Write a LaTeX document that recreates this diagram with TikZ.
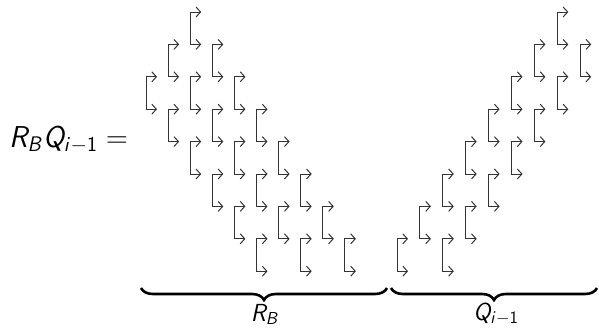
\documentclass[tikz,border=0pt]{standalone}
\usepackage{fix-cm}
\usetikzlibrary{arrows.meta,decorations.pathreplacing}
\DeclareMathAlphabet{\mathsfit}{OT1}{cmss}{m}{sl}
\begin{document}
\begin{tikzpicture}[x=1pt,y=-1pt,
  brk/.style={draw=black!80, line width=1pt, {Straight Barb[length=4.5pt,width=10pt,line width=1pt]}-{Straight Barb[length=4.5pt,width=10pt,line width=1pt]}},
  ubrace/.style={decorate, decoration={brace, mirror, amplitude=12pt}, line width=2.6pt},
  biglbl/.style={font=\fontsize{26}{30}\selectfont, inner sep=0pt, scale=1.16},
  smalllbl/.style={font=\fontsize{19}{22}\selectfont, inner sep=0pt, scale=1.3}]
\useasboundingbox (0,0) rectangle (599,327);
% main label
\node[biglbl, anchor=base west] (eq) at (9,147) {$\mathsfit{R}_{\mathsfit{B}}\mathsfit{Q}_{\mathsfit{i}-\mathsf{1}}=$};
% left group (R_B)
\foreach \c/\r in {2/0,1/1,3/1,0/2,2/2,4/2,1/3,3/3,5/3,2/4,4/4,6/4,3/5,5/5,7/5,4/6,6/6,8/6,5/7,7/7,9/7}{
  \pgfmathsetmacro{\xx}{146+22.1*\c}
  \pgfmathsetmacro{\yy}{12+32.4*\r}
  \draw[brk] (\xx+11,\yy) -- (\xx,\yy) -- (\xx,\yy+32.4) -- (\xx+11,\yy+32.4);
}
% right group (Q_{i-1})
\foreach \c/\r in {7/0,6/1,8/1,5/2,7/2,4/3,6/3,3/4,5/4,2/5,4/5,1/6,3/6,0/7,2/7}{
  \pgfmathsetmacro{\xx}{397+22.9*\c}
  \pgfmathsetmacro{\yy}{12+32.4*\r}
  \draw[brk] (\xx+11,\yy) -- (\xx,\yy) -- (\xx,\yy+32.4) -- (\xx+11,\yy+32.4);
}
% braces
\coordinate (lb1) at (141,288);
\coordinate (lb2) at (387,288);
\coordinate (rb1) at (391,288);
\coordinate (rb2) at (597,288);
\draw[ubrace] (lb1) -- (lb2);
\draw[ubrace] (rb1) -- (rb2);
\node[smalllbl, anchor=base] (rb) at (265,321) {$\mathsfit{R}_{\mathsfit{B}}$};
\node[smalllbl, anchor=base] (qi) at (496,320) {$\mathsfit{Q}_{\mathsfit{i}-\mathsf{1}}$};
\end{tikzpicture}
\end{document}
